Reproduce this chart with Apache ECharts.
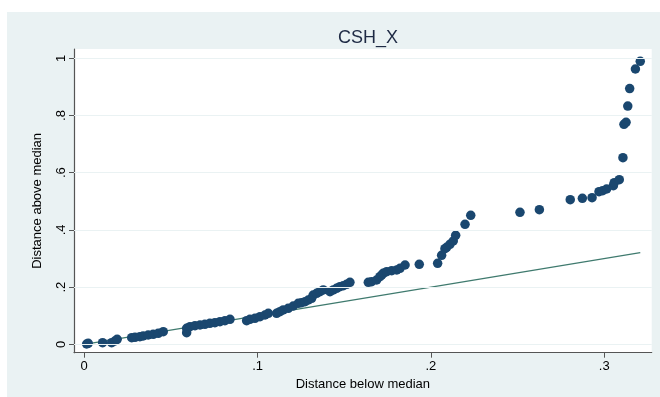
<!DOCTYPE html>
<html>
<head>
<meta charset="utf-8">
<script src="https://cdn.jsdelivr.net/npm/echarts@6/dist/echarts.min.js"></script>
<style>html,body{margin:0;padding:0;background:#fff}#c{width:660px;height:397px}</style>
</head>
<body>
<div id="c"></div>
<script>
// Distance below median (x) and distance above median (y)
const belowMedian = [0.0014,0.0023,0.0106,0.0158,0.0177,0.0190,0.0274,0.0293,0.0321,0.0340,0.0369,0.0398,0.0427,0.0456,
  0.0591,0.0591,0.0610,0.0639,0.0668,0.0696,0.0725,0.0754,0.0783,0.0812,0.0841,
  0.0937,0.0956,0.0985,0.1014,0.1043,0.1062,0.1110,0.1129,0.1148,0.1177,0.1206,0.1235,0.1254,0.1274,0.1293,0.1312,
  0.1321,0.1341,0.1360,0.1379,0.1418,0.1437,0.1456,0.1475,0.1495,0.1514,0.1533,
  0.1639,0.1658,0.1687,0.1706,0.1716,0.1725,0.1745,0.1774,0.1803,0.1822,0.1851,0.1933,0.2039,
  0.2062,0.2081,0.2091,0.2110,0.2129,0.2143,0.2197,0.2230,
  0.2514,0.2626,0.2804,0.2874,0.2930,0.2970,0.2991,0.3014,0.3053,0.3058,0.3087,0.3108,0.3114,0.3126,0.3136,0.3147,0.3180,0.3208];
const aboveMedian = [0.0010,0.0035,0.0056,0.0056,0.0115,0.0175,0.0230,0.0245,0.0266,0.0290,0.0325,0.0350,0.0385,0.0440,
  0.0406,0.0560,0.0615,0.0650,0.0675,0.0699,0.0734,0.0755,0.0790,0.0825,0.0874,
  0.0825,0.0874,0.0909,0.0965,0.1024,0.1084,0.1084,0.1140,0.1200,0.1259,0.1339,0.1434,0.1455,0.1490,0.1549,0.1608,
  0.1724,0.1783,0.1839,0.1899,0.1839,0.1899,0.1958,0.2014,0.2049,0.2098,0.2168,
  0.2168,0.2189,0.2248,0.2364,0.2423,0.2483,0.2538,0.2573,0.2598,0.2657,0.2773,0.2797,0.2832,
  0.3112,0.3343,0.3392,0.3497,0.3612,0.3811,0.4196,0.4510,
  0.4615,0.4706,0.5056,0.5105,0.5126,0.5336,0.5370,0.5430,0.5547,0.5650,0.5756,0.6526,0.7690,0.7760,0.8330,0.8940,0.9626,0.9895];
const xTicks = [0, 0.1, 0.2, 0.3];
const yTicks = [0, 0.2, 0.4, 0.6, 0.8, 1];

const pts = belowMedian.map((x, i) => [x, aboveMedian[i]]);
const xMax = Math.max(...belowMedian);
const fmt = v => { const s = String(+v.toFixed(2)); return s.startsWith('0.') ? s.slice(1) : s; };
const FONT = 'Liberation Sans, Arial, sans-serif';

const chart = echarts.init(document.getElementById('c'), null, {renderer: 'canvas'});
chart.setOption({
  animation: false,
  backgroundColor: '#ffffff',
  graphic: [{type: 'rect', z: -10, shape: {x: 7, y: 12, width: 660, height: 397}, style: {fill: '#EAF2F3'}}],
  title: {text: 'CSH_X', left: 363, top: 24, textAlign: 'center',
    textStyle: {fontFamily: FONT, fontSize: 18, fontWeight: 'normal', color: '#1E2A44'}},
  grid: {left: 74, right: 8.3, top: 49, bottom: 44.3, show: true, backgroundColor: '#ffffff', borderWidth: 0},
  xAxis: {
    type: 'value', min: -0.0059, max: 0.3274,
    name: 'Distance below median', nameLocation: 'middle', nameGap: 22,
    nameTextStyle: {fontFamily: FONT, fontSize: 13, color: '#000'},
    axisLine: {show: true, onZero: false, lineStyle: {color: '#555', width: 1.2}},
    axisTick: {show: true, length: 5, customValues: xTicks, lineStyle: {color: '#555'}},
    axisLabel: {customValues: xTicks, formatter: fmt, margin: 7, fontFamily: FONT, fontSize: 13, color: '#000'},
    splitLine: {show: false}
  },
  yAxis: {
    type: 'value', min: -0.0294, max: 1.0325,
    name: 'Distance above median', nameLocation: 'middle', nameGap: 30, nameRotate: 90,
    nameTextStyle: {fontFamily: FONT, fontSize: 13, color: '#000'},
    axisLine: {show: true, onZero: false, lineStyle: {color: '#555', width: 1.2}},
    axisTick: {show: true, length: 5, customValues: yTicks, lineStyle: {color: '#555'}},
    axisLabel: {customValues: yTicks, formatter: fmt, rotate: 90, margin: 6, fontFamily: FONT, fontSize: 13, color: '#000'},
    splitLine: {show: false}
  },
  series: [
    {type: 'line', data: [], z: 1, silent: true,
      markLine: {silent: true, symbol: 'none', label: {show: false}, animation: false,
        lineStyle: {color: '#EAF2F3', width: 1.2, type: 'solid'},
        data: yTicks.map(v => ({yAxis: v}))}},
    {type: 'line', data: [[0, 0], [xMax, xMax]], z: 2, symbol: 'none', silent: true,
      lineStyle: {color: '#3F7A6E', width: 1.2}},
    {type: 'scatter', data: pts, z: 3, symbol: 'circle', symbolSize: 9.5,
      itemStyle: {color: '#1A476F', opacity: 1}}
  ]
});
</script>
</body>
</html>
